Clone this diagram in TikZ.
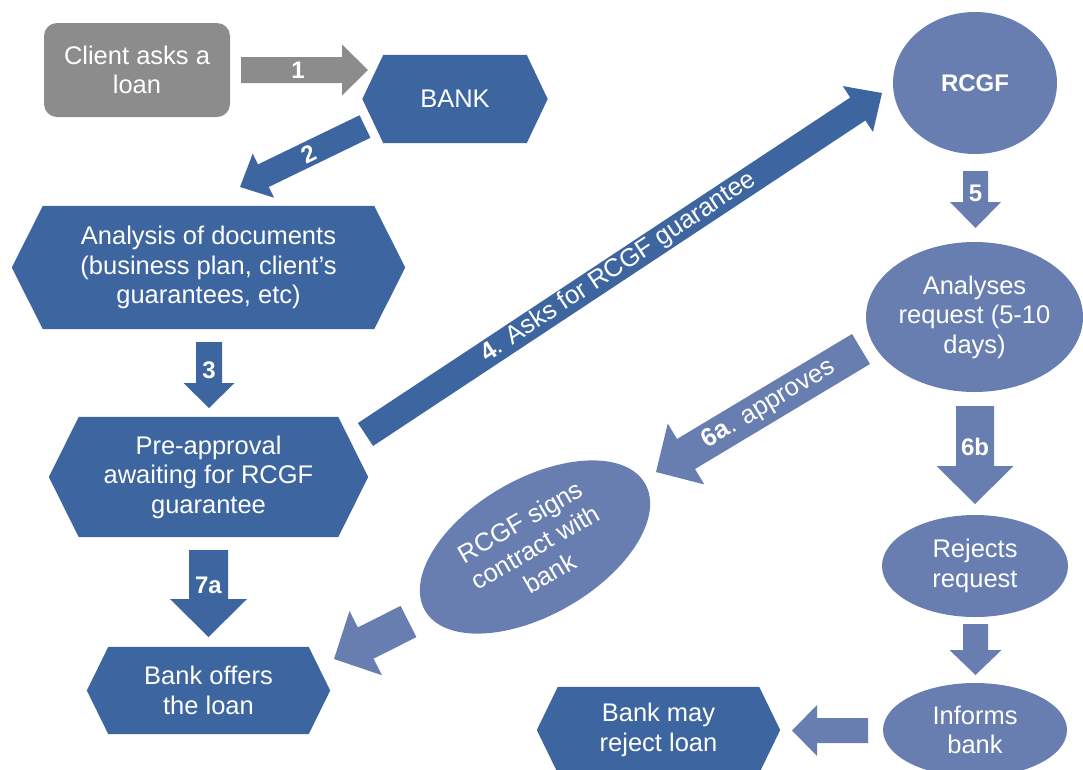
\documentclass[tikz,border=0pt]{standalone}
\usepackage{fontspec}
\setmainfont{Liberation Sans}
\usetikzlibrary{calc,shapes.geometric}

\definecolor{bankblue}{RGB}{61,101,160}
\definecolor{fundblue}{RGB}{104,126,176}
\definecolor{clientgray}{RGB}{140,140,140}

\pgfdeclarelayer{back}
\pgfsetlayers{back,main}

% block arrow: colour, tail, tip, body half-width, head half-width, head length
\newcommand\blockarrow[6]{%
  \coordinate (ba-h) at ($(#3)!#6!(#2)$);
  \fill[#1] ($(#2)!#4!90:(#3)$) -- ($(ba-h)!#4!90:(#3)$) -- ($(ba-h)!#5!90:(#3)$) -- (#3)
    -- ($(ba-h)!#5!-90:(#3)$) -- ($(ba-h)!#4!-90:(#3)$) -- ($(#2)!#4!-90:(#3)$) -- cycle;}

% hexagon behind a rectangular node: node name, side indent, colour
\newcommand\hexfill[3]{%
  \begin{pgfonlayer}{back}
    \fill[#3] (#1.west) -- ([xshift=#2]#1.north west) -- ([xshift=-#2]#1.north east)
      -- (#1.east) -- ([xshift=-#2]#1.south east) -- ([xshift=#2]#1.south west) -- cycle;
  \end{pgfonlayer}}

\begin{document}
\begin{tikzpicture}[x=1pt,y=-1pt,
  txt/.style={text=white, align=center, inner sep=0pt, font=\fontsize{25.5}{29.5}\selectfont},
  hexbox/.style={txt, shape=rectangle},
  oval/.style={txt, shape=ellipse, fill=fundblue},
  num/.style={text=white, inner sep=0pt, font=\fontsize{24}{28}\selectfont\bfseries}]

\useasboundingbox (0,0) rectangle (1083,769);
\clip (0,0) rectangle (1083,769);

% bank side
\node[txt, fill=clientgray, rounded corners=13pt, minimum width=186pt, minimum height=94pt]
  (client) at (137,70) {Client asks a\\loan};
\node[hexbox, minimum width=185pt, minimum height=88pt] (bank) at (455,99) {BANK};
\node[hexbox, minimum width=393pt, minimum height=123pt] (docs) at (208.5,267.5)
  {Analysis of documents\\(business plan, client’s\\guarantees, etc)};
\node[hexbox, minimum width=319pt, minimum height=120pt] (pre) at (208.5,477)
  {Pre-approval\\awaiting for RCGF\\guarantee};
\node[hexbox, minimum width=243pt, minimum height=87pt] (offer) at (208.5,690.5)
  {Bank offers\\the loan};
\node[hexbox, minimum width=243pt, minimum height=86pt] (mayrej) at (658.5,730)
  {Bank may\\reject loan};
\hexfill{bank}{21pt}{bankblue}
\hexfill{docs}{31pt}{bankblue}
\hexfill{pre}{30pt}{bankblue}
\hexfill{offer}{21.5pt}{bankblue}
\hexfill{mayrej}{21pt}{bankblue}

% fund side
\node[oval, minimum width=164pt, minimum height=142pt, font=\fontsize{24}{28}\selectfont\bfseries]
  (rcgf) at (975,83) {RCGF};
\node[oval, minimum width=217pt, minimum height=150pt] (study) at (974.5,317)
  {Analyses\\request (5-10\\days)};
\node[oval, minimum width=186pt, minimum height=102pt] (rejects) at (975,566) {Rejects\\request};
\node[oval, minimum width=184pt, minimum height=94pt] (informs) at (975,730) {Informs\\bank};
\node[oval, rotate=30, minimum width=254pt, minimum height=136pt] (signs) at (535,547)
  {RCGF signs\\contract with\\bank};

% arrow ends
\coordinate (a1t) at (241,70);      \coordinate (a1p) at (368,70);
\coordinate (a2t) at (365,126.5);   \coordinate (a2p) at (240,187);
\coordinate (a3t) at (209,342);     \coordinate (a3p) at (209,408);
\coordinate (a4t) at (365.5,434.5); \coordinate (a4p) at (882,93);
\coordinate (a5t) at (975.5,171);   \coordinate (a5p) at (975.5,228);
\coordinate (a6at) at (861,349);    \coordinate (a6ap) at (656,472);
\coordinate (a6bt) at (975,406);    \coordinate (a6bp) at (975,504);
\coordinate (a7t) at (975.5,624);   \coordinate (a7p) at (975.5,675);
\coordinate (a8t) at (868,730.5);   \coordinate (a8p) at (792,730.5);
\coordinate (a9t) at (408.5,621.5); \coordinate (a9p) at (334,659);
\coordinate (a7at) at (208.5,550);  \coordinate (a7ap) at (208.5,637);

% arrows
\blockarrow{clientgray}{a1t}{a1p}{13pt}{25.5pt}{26pt}
\blockarrow{bankblue}{a2t}{a2p}{12.5pt}{24.5pt}{26pt}
\blockarrow{bankblue}{a3t}{a3p}{13pt}{25.5pt}{25pt}
\blockarrow{bankblue}{a4t}{a4p}{13.75pt}{27.5pt}{29pt}
\blockarrow{fundblue}{a5t}{a5p}{12.5pt}{25.5pt}{26pt}
\blockarrow{fundblue}{a6at}{a6ap}{17.5pt}{35.5pt}{35pt}
\blockarrow{fundblue}{a6bt}{a6bp}{19pt}{38.5pt}{38pt}
\blockarrow{fundblue}{a7t}{a7p}{12.5pt}{26pt}{25pt}
\blockarrow{fundblue}{a8t}{a8p}{12.5pt}{25.5pt}{25pt}
\blockarrow{fundblue}{a9t}{a9p}{17.5pt}{36pt}{35.5pt}
\blockarrow{bankblue}{a7at}{a7ap}{19.5pt}{38.5pt}{38pt}

% arrow labels
\node[num] (n1) at ($(a1t)!0.45!(a1p)$) {1};
\node[num, rotate=26] (n2) at ($(a2t)!0.45!(a2p)$) {2};
\node[num] (n3) at ($(a3t)!0.43!(a3p)$) {3};
\node[txt, rotate=33.5] (n4) at ($(a4t)!0.49!(a4p)$) {{\bfseries 4}. Asks for RCGF guarantee};
\node[num] (n5) at ($(a5t)!0.4!(a5p)$) {5};
\node[txt, rotate=31] (n6a) at ($(a6at)!0.45!(a6ap)$) {{\bfseries 6a}. approves};
\node[num] (n6b) at ($(a6bt)!0.42!(a6bp)$) {6b};
\node[num] (n7a) at ($(a7at)!0.41!(a7ap)$) {7a};
\end{tikzpicture}
\end{document}
